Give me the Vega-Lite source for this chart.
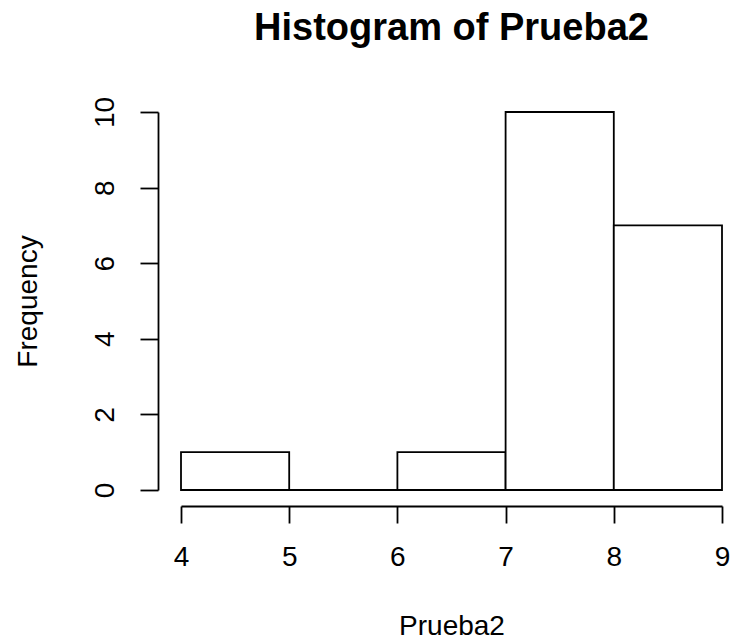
{
  "$schema": "https://vega.github.io/schema/vega-lite/v6.json",
  "width": 541,
  "height": 378,
  "autosize": "none",
  "padding": {"left": 181, "top": 112, "right": 10, "bottom": 151},
  "background": "white",
  "title": {
    "text": "Histogram of Prueba2",
    "font": "Liberation Sans",
    "fontSize": 38,
    "fontWeight": "bold",
    "color": "black",
    "anchor": "middle",
    "frame": "group",
    "baseline": "alphabetic",
    "offset": 18
  },
  "data": {
    "values": [
      {"bin_start": 4, "bin_end": 5, "count": 1},
      {"bin_start": 5, "bin_end": 6, "count": 0},
      {"bin_start": 6, "bin_end": 7, "count": 1},
      {"bin_start": 7, "bin_end": 8, "count": 10},
      {"bin_start": 8, "bin_end": 9, "count": 7}
    ]
  },
  "mark": {"type": "rect", "fill": "white", "stroke": "black", "strokeWidth": 1.8},
  "encoding": {
    "x": {
      "field": "bin_start",
      "type": "quantitative",
      "scale": {"domain": [4, 9], "nice": false, "zero": false},
      "axis": {
        "values": [4, 5, 6, 7, 8, 9],
        "title": "Prueba2",
        "offset": 16,
        "tickSize": 17,
        "labelPadding": 20,
        "titlePadding": 41
      }
    },
    "x2": {"field": "bin_end"},
    "y": {
      "field": "count",
      "type": "quantitative",
      "scale": {"domain": [0, 10], "nice": false},
      "axis": {
        "values": [0, 2, 4, 6, 8, 10],
        "title": "Frequency",
        "offset": 23,
        "tickSize": 18,
        "labelAngle": 270,
        "labelAlign": "center",
        "labelBaseline": "bottom",
        "labelPadding": 21,
        "titlePadding": 49
      }
    },
    "y2": {"datum": 0}
  },
  "config": {
    "view": {"stroke": null},
    "axis": {
      "grid": false,
      "domainColor": "black",
      "domainWidth": 1.8,
      "tickColor": "black",
      "tickWidth": 1.8,
      "labelFont": "Liberation Sans",
      "labelFontSize": 28,
      "labelColor": "black",
      "labelFlush": false,
      "labelOverlap": false,
      "titleFont": "Liberation Sans",
      "titleFontSize": 28,
      "titleFontWeight": "normal",
      "titleColor": "black"
    }
  }
}
